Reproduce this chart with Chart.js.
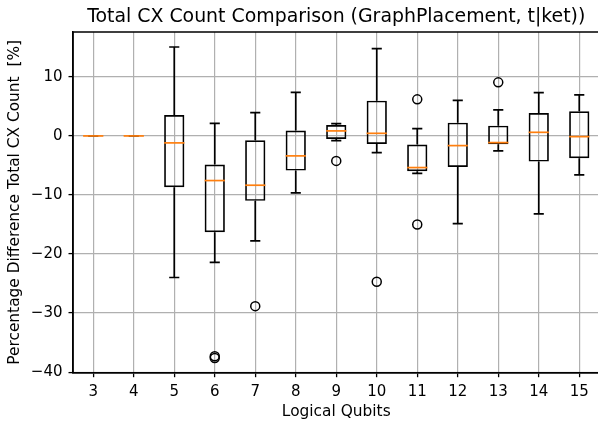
<!DOCTYPE html>
<html>
<head>
<meta charset="utf-8">
<script src="https://cdn.jsdelivr.net/npm/chart.js@4"></script>
<style>
  html, body { margin: 0; padding: 0; overflow: hidden; background: #fff; }
  #wrap { width: 598px; height: 423px; overflow: hidden; position: relative; }
  #boxChart { display: block; }
</style>
</head>
<body>
<div id="wrap"><canvas id="boxChart" width="600" height="423"></canvas></div>
<script>
const qubits = ['3', '4', '5', '6', '7', '8', '9', '10', '11', '12', '13', '14', '15'];
const whiskerLow = [0, 0, -23.98, -21.4, -17.77, -9.65, -0.8, -2.83, -6.33, -14.84, -2.54, -13.2, -6.6];
const q1 = [0, 0, -8.7, -16.3, -11.0, -5.87, -0.51, -1.35, -5.99, -5.25, -1.42, -4.35, -3.79];
const median = [0, 0, -1.18, -7.56, -8.35, -3.38, 0.85, 0.44, -5.36, -1.64, -1.13, 0.61, -0.12];
const q3 = [0, 0, 3.55, -4.86, -0.74, 0.9, 1.86, 5.97, -1.47, 2.25, 1.74, 3.89, 4.16];
const whiskerHigh = [0, 0, 15.06, 2.13, 3.94, 7.38, 2.08, 14.77, 1.24, 6.02, 4.4, 7.33, 6.94];
const outlierQubits = ['6', '6', '7', '9', '10', '11', '11', '13'];
const outlierValues = [-37.3, -37.6, -28.83, -4.23, -24.7, 6.19, -15.0, 9.07];
const yTicks = [-40, -30, -20, -10, 0, 10];

const titleText = 'Total CX Count Comparison (GraphPlacement, t|ket))';

Chart.defaults.font.family = 'DejaVu Sans';
Chart.defaults.font.size = 15;
Chart.defaults.color = '#000';

// whiskers, caps, medians, frame and title
const boxExtras = {
  id: 'boxExtras',
  afterDatasetsDraw(chart) {
    const { ctx, chartArea, scales: { x, y } } = chart;
    const step = x.getPixelForValue(1) - x.getPixelForValue(0);
    const boxHalf = step * 0.25;
    const capHalf = step * 0.125;
    ctx.save();
    ctx.lineWidth = 1.7;
    qubits.forEach((q, i) => {
      const cx = x.getPixelForValue(i);
      ctx.strokeStyle = '#000';
      ctx.beginPath();
      ctx.moveTo(cx, y.getPixelForValue(q3[i]));
      ctx.lineTo(cx, y.getPixelForValue(whiskerHigh[i]));
      ctx.moveTo(cx, y.getPixelForValue(q1[i]));
      ctx.lineTo(cx, y.getPixelForValue(whiskerLow[i]));
      ctx.moveTo(cx - capHalf, y.getPixelForValue(whiskerHigh[i]));
      ctx.lineTo(cx + capHalf, y.getPixelForValue(whiskerHigh[i]));
      ctx.moveTo(cx - capHalf, y.getPixelForValue(whiskerLow[i]));
      ctx.lineTo(cx + capHalf, y.getPixelForValue(whiskerLow[i]));
      ctx.stroke();
      ctx.strokeStyle = '#ff7f0e';
      ctx.beginPath();
      ctx.moveTo(cx - boxHalf, y.getPixelForValue(median[i]));
      ctx.lineTo(cx + boxHalf, y.getPixelForValue(median[i]));
      ctx.stroke();
    });
    ctx.strokeStyle = '#000';
    ctx.lineWidth = 1.5;
    ctx.strokeRect(chartArea.left, chartArea.top, chartArea.right - chartArea.left, chartArea.bottom - chartArea.top);
    ctx.fillStyle = '#000';
    ctx.font = '18.9px "DejaVu Sans"';
    ctx.textAlign = 'center';
    ctx.textBaseline = 'alphabetic';
    ctx.fillText(titleText, (chartArea.left + chartArea.right) / 2, 21.7);
    ctx.restore();
  }
};

new Chart(document.getElementById('boxChart'), {
  type: 'bar',
  data: {
    labels: qubits,
    datasets: [
      {
        label: 'IQR',
        data: qubits.map((q, i) => [q1[i], q3[i]]),
        backgroundColor: 'rgba(0,0,0,0)',
        borderColor: '#000',
        borderWidth: 1.7,
        borderSkipped: false,
        barPercentage: 0.5,
        categoryPercentage: 1.0
      },
      {
        type: 'scatter',
        label: 'Outliers',
        data: outlierQubits.map((q, i) => ({ x: q, y: outlierValues[i] })),
        pointRadius: 4.5,
        pointBackgroundColor: 'rgba(0,0,0,0)',
        pointBorderColor: '#000',
        pointBorderWidth: 1.5
      }
    ]
  },
  options: {
    responsive: false,
    animation: false,
    layout: { autoPadding: false, padding: { top: 32, right: 0.5, left: 0, bottom: 0 } },
    plugins: {
      legend: { display: false },
      tooltip: { enabled: false }
    },
    scales: {
      x: {
        type: 'category',
        offset: true,
        grid: { offset: false, color: '#b0b0b0', lineWidth: 1.2, tickLength: 4.5, tickColor: '#000', tickWidth: 1.3 },
        border: { color: '#000', width: 1.5 },
        ticks: { padding: 6 },
        title: { display: true, text: 'Logical Qubits', font: { size: 15.4 }, padding: { top: 0, bottom: 2 } },
        afterFit(scale) {
          scale.height = 50.3;
          scale.paddingLeft = 0;
          scale.paddingRight = 0;
        }
      },
      y: {
        min: -40.1,
        max: 17.6,
        afterBuildTicks(scale) { scale.ticks = yTicks.map(v => ({ value: v })); },
        grid: { color: '#b0b0b0', lineWidth: 1.2, tickLength: 4.5, tickColor: '#000', tickWidth: 1.3 },
        border: { color: '#000', width: 1.5 },
        ticks: {
          padding: 6,
          callback: v => String(v).replace('-', '\u2212')
        },
        title: { display: true, text: 'Percentage Difference Total CX Count  [%]', font: { size: 15.4 }, padding: { top: 5.3, bottom: 0 } },
        afterFit(scale) {
          scale.width = 73;
          scale.paddingTop = 0;
          scale.paddingBottom = 0;
        }
      }
    }
  },
  plugins: [boxExtras]
});
</script>
</body>
</html>
